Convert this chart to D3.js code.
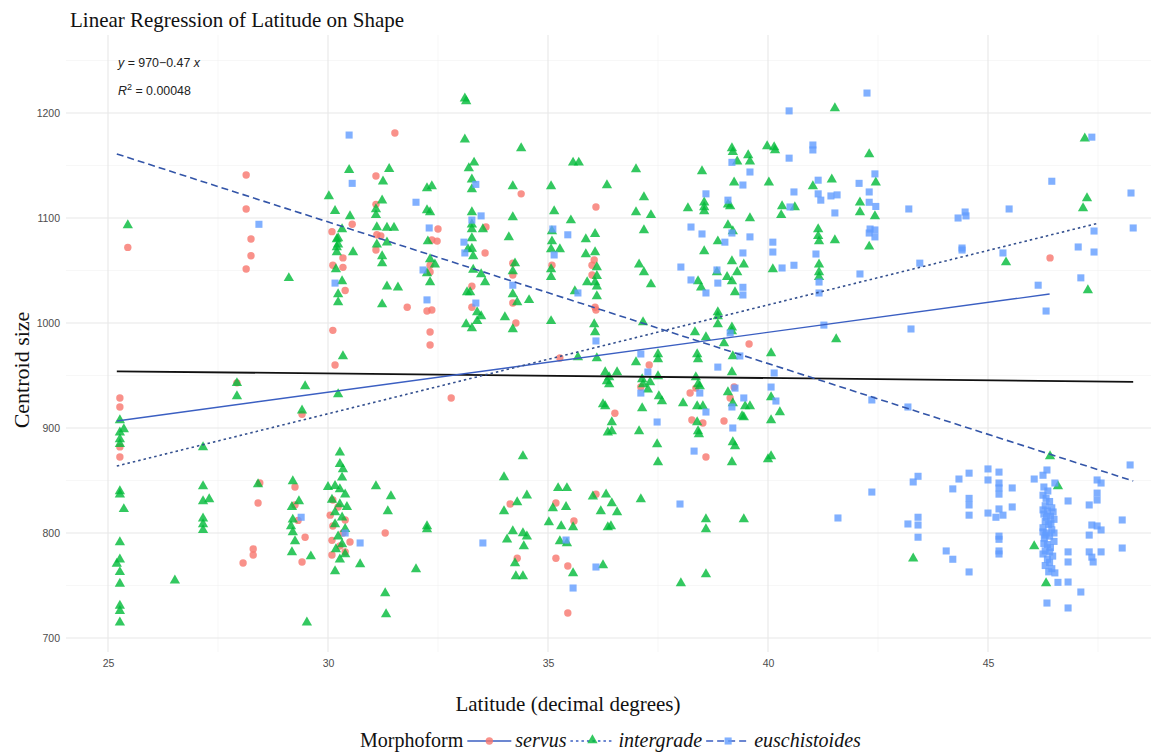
<!doctype html>
<html>
<head>
<script src="https://d3js.org/d3.v7.min.js"></script>
<style>
  body { margin:0; background:#fff; }
  svg { display:block; }
</style>
</head>
<body>
<svg id="chart" width="1151" height="753"></svg>
<script>
// latitude / centroid size pairs
var servus = [
  [25.27,928.6],[25.27,920],[25.27,882],[25.27,872.4],[25.45,1072],
  [28.14,1141],[28.14,1108.6],[28.25,1080],[28.25,1064],[28.14,1051.4],[27.93,943],[28.45,847.6],[28.41,828.6],[28.3,784.8],[28.3,779],[28.07,771.4],
  [29.41,913],[29.25,843.8],[29.25,826.7],[29.32,812],[29.48,796],[29.41,772.4],
  [30.11,993],[30.16,960],[30.11,1055],[30.09,1087],[30.55,1094],[30.34,1053],[30.11,831.4],[30.23,824.8],[30.05,817],[30.39,812.4],[30.11,806.7],[30.34,800],[30.09,793],[30.27,787.6],[30.09,779],[30.39,781.9],[30.5,791.4],[30.39,1031],[30.34,1062],
  [31.09,1140],[31.52,1181],[31.09,1113],[31.11,1084],[31.2,1083],[31.09,1069.5],[31.3,800],[31.8,1015],
  [32.36,1079],[32.48,1078],[32.5,1089.5],[32.32,1055],[32.32,1048.6],[32.25,1011.4],[32.36,1012.4],[32.32,991.4],[32.32,979],[32.8,928.6],
  [33.59,1091.4],[33.57,1066.7],[33.27,1035],[33.27,1015],
  [34.39,1123],[34.2,1057],[34.2,1045.7],[34.2,1019],[34.27,1000],[34.14,827.6],[34.3,776],
  [35.09,1055],[35.27,966.7],[35.18,828.6],[35.59,811.4],[35.18,776],[35.45,768.6],[35.45,723.8],
  [36.09,1110.5],[36.05,1060],[36.0,1055],[36.0,1045.7],[36.07,1015],[36.09,1012.4],[36.09,837],[36.52,914],
  [37.3,960],[37.11,939],[38.36,938],[38.23,933.3],[39.14,928.6],[39.23,939],[38.27,907.6],[38.52,904.8],[39.0,906.7],[38.59,872.4],[39.57,980],
  [46.41,1062]
];
var intergrade = [
  [25.27,906.7],[25.36,898],[25.27,895],[25.27,888.6],[25.27,884],[25.45,1092.4],[25.27,839],[25.27,836],[25.36,822],[25.27,790.5],[25.27,774],[25.2,770],[25.27,762],[25.27,751],[25.27,730],[25.27,725],[25.27,714],
  [27.16,843.8],[27.16,829.5],[27.3,831.4],[27.16,813],[27.16,807.6],[27.16,802],[26.52,754],[27.16,880.9],[27.93,942],[27.93,929.5],
  [28.41,845.7],[29.11,1042],[29.48,939],[29.41,916],[29.2,848.6],[29.34,829.5],[29.18,824],[29.2,812],[29.16,805.7],[29.2,800],[29.25,791.4],[29.18,781],[29.61,777],[29.52,714],
  [30.27,865],[30.34,860],[30.32,852],[30.16,844],[30.27,841],[30.39,836],[30.09,831],[30.27,826.7],[30.43,824],[30.16,819],[30.32,814],[30.16,807.6],[30.39,803],[30.23,796],[30.32,788.6],[30.18,783.8],[30.39,779],[30.27,774],[30.16,762.9],[30.0,843],[30.73,769.5],[30.27,876],
  [30.34,967.6],[30.23,931.4],[30.23,1026.7],[30.23,1019],[30.2,1066.7],[30.57,1066.7],
  [30.02,1120],[30.2,1079],[30.48,1145],[30.5,1101],[30.23,1080],[30.23,1074],[30.16,1106],[30.32,1088.6],[30.2,1071.4],[30.18,1050.5],[30.32,1039],
  [31.39,1146],[31.25,1134],[31.23,1116],[31.09,1107.6],[31.09,1102],[31.11,1090.5],[31.34,1090],[31.5,1090],[31.11,1074],[31.34,1076],[31.23,1062.9],[31.23,1056],[31.34,1034],[31.59,1033],[31.23,1017],[31.09,843.8],[31.43,834.3],[31.36,820],[31.3,741.9],[31.32,721.9],
  [32.25,1127.6],[32.36,1129.5],[32.25,1106.7],[32.32,1104.8],[32.27,1077],[32.32,1060],[32.43,1055],[32.25,1046.7],[32.32,1038],[32.25,805.7],[32.25,802.9],[32.0,764.8],
  [33.11,1213],[33.14,1210.5],[33.11,1174],[33.2,1146.7],[33.32,1152],[33.27,1136],[33.27,1126.7],[33.27,1104.8],[33.27,1093],[33.27,1088.6],[33.52,1088.6],[33.18,1069.5],[33.3,1062.9],[33.48,1045.7],[33.57,1038],[33.16,1028.6],[33.23,1028.6],[33.39,1009.5],[33.48,1005.7],[33.14,998],[33.27,994.3],[33.39,1001],[33.27,1080],[33.27,1070],[33.3,1050],
  [34.39,1165.7],[34.2,1129.5],[34.2,1100],[34.11,1081],[34.25,1056],[34.2,1048.6],[34.2,1026.7],[34.3,1019],[34.57,1021],[34.02,1004.8],[34.2,993.3],[34.43,872.4],[34.0,852.4],[34.0,820],[34.3,828.6],[34.52,835],[34.2,801],[34.07,793],[34.43,799],[34.52,796],[34.45,786.7],[34.25,770.5],[34.27,758],[34.43,758],
  [35.07,1129.5],[35.14,1105.7],[35.09,1086.7],[35.09,1077],[35.52,1097],[35.57,1152],[35.7,1152],[35.07,1069.5],[35.07,1050.5],[35.07,1043],[35.07,1001],[35.27,1069.5],[35.61,1029.5],[35.68,966.7],[35.23,842],[35.43,842],[35.11,822.9],[35.41,824],[35.02,809.5],[35.3,805.7],[35.57,804.8],[35.27,791.4],[35.43,789.5],[35.57,761],
  [35.86,1079],[36.07,1084],[36.34,1130.5],[35.86,1064.8],[36.07,1066.7],[36.11,1052.4],[36.11,1044],[35.89,1038],[36.07,1038],[36.11,1034],[36.11,1024.8],[36.05,998],[36.07,990.5],[36.11,965.7],[36.3,952.4],[36.34,943.8],[36.3,920],[36.36,895],[36.25,768.6],[36.02,834],[36.2,820],[36.36,804.8],[36.57,952.4],[36.39,947.6],[36.39,941],[36.25,921.9],[36.45,904.8],[36.45,896.2],[36.32,836],[36.45,827.6],[36.57,819],[36.43,805.7],
  [37.0,1145.7],[37.18,1119],[37.0,1104.8],[37.34,1102],[37.18,1087.6],[37.07,1055],[37.18,1047.6],[37.34,1036],[37.16,1000],[37.5,969.5],[37.5,964.8],[37.0,961.9],[37.14,945.7],[37.16,941],[37.32,942.9],[37.27,936],[37.5,948.6],[37.52,929.5],[37.59,924.8],[37.14,918],[37.07,896.2],[37.48,883.8],[37.5,866.7],[37.11,831.4],
  [38.5,1143.8],[38.18,1108.6],[38.55,1114],[38.55,1109.5],[38.55,1105.7],[38.41,1039],[38.48,1033],[38.84,1047.6],[38.07,922.9],[38.39,920],[38.52,920],[38.34,990.5],[38.59,985.7],[38.86,1009.5],[38.86,1005.7],[38.86,998],[38.39,969.5],[38.41,964.8],[38.36,947.6],[38.41,941],[38.45,939],[38.39,904.8],[38.41,896.2],[38.43,893.3],[38.59,812.4],[38.59,802.9],[38.59,760],[38.02,751.4],[38.86,1077],[38.55,1067.6],
  [39.09,1112],[39.14,1110.5],[39.09,1092.4],[39.2,1086.7],[39.18,1165.7],[39.2,1162],[39.3,1153],[39.55,1159],[39.59,1153],[39.23,1133],[39.59,1099],[39.07,1043],[39.18,1058],[39.18,1039],[39.25,1028.6],[39.3,1047.6],[39.45,1055],[39.18,995],[39.18,991.4],[39.0,980],[39.2,967.6],[39.18,952.4],[39.09,933.3],[39.2,922.9],[39.48,920],[39.59,920],[39.41,910.5],[39.45,909.5],[39.2,885.7],[39.25,881.9],[39.45,812.4],[39.18,866.7],
  [39.98,1167.6],[40.14,1166.7],[40.16,1163.8],[40.02,1133],[40.32,1110.5],[40.3,1102],[40.61,1109.5],[40.11,1050.5],[40.07,970.5],[40.07,928.6],[40.27,914.3],[40.07,906.7],[40.07,872.4],[40.0,869.5],
  [41.52,1203.8],[41.02,1129.5],[41.45,1136],[41.14,1088.6],[41.14,1082],[41.16,1077],[41.52,1078],[41.16,1055],[41.16,1047.6],[41.16,1043],[41.55,983.8],
  [42.3,1160],[42.45,1133],[42.09,1114],[42.09,1104.8],[42.43,1101],[42.3,1072],
  [43.3,775],[45.41,1057],[46.59,843.8],[46.05,786.7],[46.32,751.4],[46.41,872.4],[47.2,1175],[47.25,1118],[47.16,1108.6],[47.27,1030.5]
];
var euschistoides = [
  [28.43,1094],[29.39,815],[30.48,1179],[30.55,1133],[30.16,1038],[30.39,800],[30.73,790.5],[32.0,1115],[32.3,1090.5],[32.16,1050.5],[32.25,1022],
  [33.36,1132],[33.27,1098],[33.48,1102],[33.09,1077],[33.11,1066.7],[33.36,1019],[33.52,790.5],[34.2,1036],[35.11,1089.5],[35.45,1084],[35.14,1064.8],[35.68,1028.6],[35.41,793.3],[35.57,747.6],[36.09,982.9],[36.09,767.6],
  [38.59,1123],[38.25,1091.4],[38.5,1084.8],[39.09,1117],[39.18,1085.7],[39.02,1077],[39.18,1153],[39.59,1143.8],[39.43,1131.4],[39.59,1082],[40.48,1202],[40.48,1157],[40.59,1124.8],[40.5,1110.5],[40.11,1077],
  [41.02,1169.5],[41.02,1164.8],[41.14,1136],[41.14,1123],[41.2,1117],[41.43,1121],[41.57,1122],[41.52,1104.8],[42.25,1219],[42.43,1142],[42.07,1133],[42.3,1124.8],[42.3,1115],[42.45,1111],[42.32,1089.5],[42.43,1088.6],[42.3,1085.7],[42.43,1082],
  [38.02,1053.3],[38.25,1041],[38.59,1028.6],[38.84,1050.5],[38.86,1038],[39.43,1034],[39.43,1026.7],[39.43,1066.7],[40.11,1067.6],[40.32,1052.4],[40.59,1055],[41.09,1065.7],[41.16,1039],[41.16,1028.6],[42.09,1046.7],
  [37.11,970.5],[37.27,953.3],[37.11,933.3],[38.45,933.3],[38.86,958],[39.14,990.5],[39.25,938],[39.36,968.6],[39.45,928.6],[40.07,939],[40.14,952.4],[40.18,925.7],[38.59,915.2],[37.48,905.7],[39.18,920],[39.2,900],[38.32,878],[38.0,827.6],
  [41.27,998],[41.59,814.3],[42.36,926.7],[43.18,920],[43.25,994.3],[43.45,1057],[43.2,1108.6],[44.32,1100],[44.48,1105.7],[44.5,1102],[45.48,1108.6],[46.45,1135],[47.36,1177],[48.25,1123.8],[48.3,1090.5],[47.41,1087.6],[47.05,1072.4],[44.41,1071.4],[44.41,1069.5],[45.34,1066.7],[47.41,1067.6],[46.14,1036],[47.11,1043],[46.32,1011.4],
  [42.36,839],[43.3,848.6],[43.41,854],[43.18,808.6],[43.41,815],[43.41,807.6],[43.41,796],[44.05,782.9],[44.2,775],[44.2,842],[44.34,851.4],[44.57,857],[44.57,833],[44.57,826.7],[44.57,817],[44.57,762.9],
  [45.0,861],[45.0,850.5],[45.0,819],[45.25,858],[45.25,847.6],[45.25,842.9],[45.25,837],[45.25,822.9],[45.18,815],[45.34,817],[45.25,797],[45.25,794],[45.25,782.9],[45.25,780],[45.55,842.9],[45.55,824.8],
  [46.05,851.4],[46.25,855],[46.34,860],[46.27,843.8],[46.52,847.6],[46.25,801],[46.34,733.3],[46.52,762],[46.59,753],
  [46.25,836],[46.32,833],[46.4,830],[46.3,826],[46.45,824],[46.35,821],[46.27,818],[46.42,816],[46.5,813],[46.3,811],[46.38,808],[46.25,805],[46.45,803],[46.33,800],[46.4,797],[46.28,795],[46.5,792],[46.35,789],[46.42,786],[46.3,783],[46.25,780],[46.47,778],[46.35,775],[46.4,772],[46.3,769],[46.45,766],[46.38,763],[46.27,790],[46.48,820],[46.36,840],[46.3,798],[46.43,809],[46.25,822],[46.5,800],[46.33,815],[46.4,782],
  [46.82,830.5],[46.82,782],[46.82,772.4],[46.82,753.3],[47.11,743.8],[46.82,728.6],[47.48,850.5],[47.57,847.6],[47.48,838],[47.48,831.4],[47.3,826.7],[47.36,807.6],[47.48,806.7],[47.57,802.9],[47.3,798],[47.3,782],[47.36,777],[47.39,772.4],[47.57,782],[48.05,812.4],[48.05,785.7],[48.23,864.8]
];
// fitted lines, end points
var fitAll = [[25.2,954],[48.3,944]];
var fitServus = [[25.2,906.7],[46.4,1027.6]];
var fitIntergrade = [[25.2,863.8],[47.5,1095]];
var fitEuschistoides = [[25.2,1161],[48.3,849.5]];

var xTicks = [25,30,35,40,45];
var yTicks = [700,800,900,1000,1100,1200];
var groups = ["servus","intergrade","euschistoides"];
var groupColors = ["#F8766D","#00BA38","#619CFF"];

var svg = d3.select("#chart");
var pLeft = 66, pRight = 1151, pTop = 35, pBottom = 652;

var x = d3.scaleLinear().domain([25,45]).range([108,988]);
var y = d3.scaleLinear().domain([700,1200]).range([638,113]);

svg.append("defs").append("clipPath").attr("id","panel")
  .append("rect").attr("x",pLeft).attr("y",pTop).attr("width",pRight-pLeft).attr("height",pBottom-pTop);

var grid = svg.append("g").attr("clip-path","url(#panel)");
// minor grid
grid.selectAll(".vmin").data([22.5,27.5,32.5,37.5,42.5,47.5]).enter().append("line")
  .attr("x1",d=>x(d)).attr("x2",d=>x(d)).attr("y1",pTop).attr("y2",pBottom)
  .attr("stroke","#f2f2f2").attr("stroke-width",0.6);
grid.selectAll(".hmin").data([650,750,850,950,1050,1150,1250]).enter().append("line")
  .attr("y1",d=>y(d)).attr("y2",d=>y(d)).attr("x1",pLeft).attr("x2",pRight)
  .attr("stroke","#f2f2f2").attr("stroke-width",0.6);
// major grid
grid.selectAll(".vmaj").data(xTicks.concat([50])).enter().append("line")
  .attr("x1",d=>x(d)).attr("x2",d=>x(d)).attr("y1",pTop).attr("y2",pBottom)
  .attr("stroke","#e8e8e8").attr("stroke-width",1.1);
grid.selectAll(".hmaj").data(yTicks).enter().append("line")
  .attr("y1",d=>y(d)).attr("y2",d=>y(d)).attr("x1",pLeft).attr("x2",pRight)
  .attr("stroke","#e8e8e8").attr("stroke-width",1.1);

// axes
var xAxis = svg.append("g").attr("transform","translate(0,"+(pBottom+2)+")")
  .call(d3.axisBottom(x).tickValues(xTicks).tickFormat(d3.format("d")).tickSize(0).tickPadding(6));
var yAxis = svg.append("g").attr("transform","translate("+(pLeft-4)+",0)")
  .call(d3.axisLeft(y).tickValues(yTicks).tickFormat(d3.format("d")).tickSize(0).tickPadding(2));
[xAxis,yAxis].forEach(function(a){
  a.select(".domain").remove();
  a.selectAll("text").attr("fill","#4d4d4d").style("font-family","Liberation Sans, Arial, sans-serif").style("font-size","10.5px");
});

// points
var plot = svg.append("g").attr("clip-path","url(#panel)");
var triangle = d3.symbol().type(d3.symbolTriangle).size(46);
var square = d3.symbol().type(d3.symbolSquare).size(50);

plot.selectAll(".servus").data(servus).enter().append("circle")
  .attr("cx",d=>x(d[0])).attr("cy",d=>y(d[1])).attr("r",3.7)
  .attr("fill",groupColors[0]).attr("fill-opacity",0.8);
plot.selectAll(".intergrade").data(intergrade).enter().append("path")
  .attr("d",triangle).attr("transform",d=>"translate("+x(d[0])+","+(y(d[1])-0.8)+")")
  .attr("fill",groupColors[1]).attr("fill-opacity",0.8);
plot.selectAll(".eus").data(euschistoides).enter().append("path")
  .attr("d",square).attr("transform",d=>"translate("+x(d[0])+","+y(d[1])+")")
  .attr("fill",groupColors[2]).attr("fill-opacity",0.8);

// regression lines
var line = d3.line().x(d=>x(d[0])).y(d=>y(d[1]));
plot.append("path").datum(fitAll).attr("d",line).attr("stroke","#111").attr("stroke-width",1.8).attr("fill","none");
plot.append("path").datum(fitServus).attr("d",line).attr("stroke","#3b5fc2").attr("stroke-width",1.4).attr("fill","none");
plot.append("path").datum(fitIntergrade).attr("d",line).attr("stroke","#34508f").attr("stroke-width",1.6)
  .attr("stroke-dasharray","2.5,3").attr("fill","none");
plot.append("path").datum(fitEuschistoides).attr("d",line).attr("stroke","#3355a8").attr("stroke-width",1.6)
  .attr("stroke-dasharray","7,4").attr("fill","none");

// annotation
var ann = svg.append("g").style("font-family","Liberation Sans, Arial, sans-serif").style("font-size","12.4px").attr("fill","#222");
var t1 = ann.append("text").attr("x",118).attr("y",67);
t1.append("tspan").attr("font-style","italic").text("y");
t1.append("tspan").text(" = 970\u22120.47 ");
t1.append("tspan").attr("font-style","italic").text("x");
var t2 = ann.append("text").attr("x",118).attr("y",95);
t2.append("tspan").attr("font-style","italic").text("R");
t2.append("tspan").attr("dy",-5).style("font-size","9px").text("2");
t2.append("tspan").attr("dy",5).text(" = 0.00048");

// titles
var serif = "Liberation Serif, Times New Roman, serif";
svg.append("text").attr("x",70).attr("y",27).style("font-family",serif).style("font-size","21px").attr("fill","#111")
  .text("Linear Regression of Latitude on Shape");
svg.append("text").attr("transform","translate(29,370) rotate(-90)").attr("text-anchor","middle")
  .style("font-family",serif).style("font-size","22px").attr("fill","#111").text("Centroid size");
svg.append("text").attr("x",568).attr("y",711).attr("text-anchor","middle")
  .style("font-family",serif).style("font-size","21px").attr("fill","#111").text("Latitude (decimal degrees)");

// legend, laid out left to right from measured text widths
var leg = svg.append("g");
var legY = 747, keyY = 741;
var title = leg.append("text").attr("x",360).attr("y",legY).style("font-family",serif).style("font-size","20px")
  .attr("fill","#111").text("Morphoform");
var cursor = 360 + title.node().getComputedTextLength() + 4;
var dashes = [null,"2.5,3","7,4"];
groups.forEach(function(g,i){
  var x0 = cursor, x1 = cursor + 44, cx = (x0+x1)/2;
  leg.append("line").attr("x1",x0).attr("x2",x1).attr("y1",keyY).attr("y2",keyY)
    .attr("stroke","#3b5fc2").attr("stroke-width",1.5).attr("stroke-dasharray",dashes[i]);
  if (i==0) leg.append("circle").attr("cx",cx).attr("cy",keyY).attr("r",3.7).attr("fill",groupColors[i]).attr("fill-opacity",0.8);
  if (i==1) leg.append("path").attr("d",triangle).attr("transform","translate("+cx+","+(keyY-0.8)+")").attr("fill",groupColors[i]).attr("fill-opacity",0.8);
  if (i==2) leg.append("path").attr("d",square).attr("transform","translate("+cx+","+keyY+")").attr("fill",groupColors[i]).attr("fill-opacity",0.8);
  var t = leg.append("text").attr("x",x1+4).attr("y",legY).style("font-family",serif).style("font-style","italic")
    .style("font-size","20px").attr("fill","#111").text(g);
  cursor = x1 + 4 + t.node().getComputedTextLength() + 4;
});
</script>
</body>
</html>
